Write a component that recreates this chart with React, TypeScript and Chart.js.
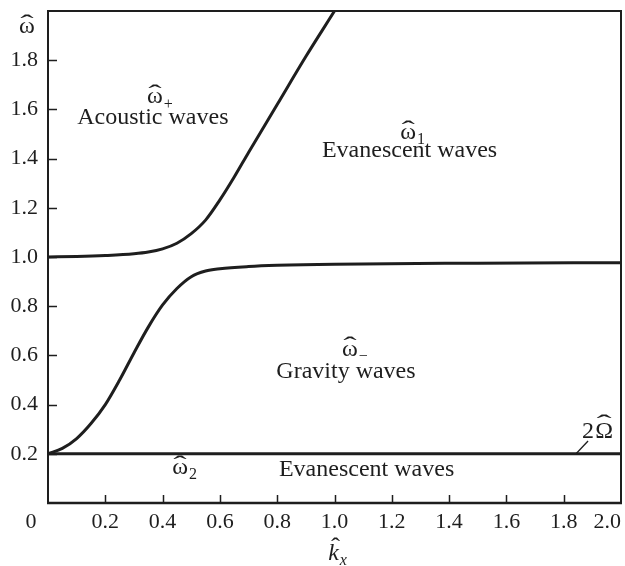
import React, { useEffect, useRef } from 'react';
import { Chart, registerables } from 'chart.js';

Chart.register(...registerables);

// ---- data ----
const kAcoustic = [0, 0.1, 0.2, 0.3, 0.35, 0.4, 0.45, 0.5, 0.55, 0.6, 0.65, 0.7, 0.8, 0.9, 1.0];
const omegaPlus = [1.0, 1.002, 1.006, 1.013, 1.02, 1.033, 1.056, 1.095, 1.15, 1.232, 1.325, 1.425, 1.62, 1.815, 2.0];

const kGravity = [0, 0.05, 0.1, 0.15, 0.2, 0.25, 0.3, 0.35, 0.4, 0.45, 0.5, 0.55, 0.6, 0.7, 0.8, 1.0, 1.5, 2.0];
const omegaMinus = [0.2, 0.222, 0.262, 0.323, 0.4, 0.5, 0.61, 0.715, 0.805, 0.872, 0.92, 0.943, 0.952, 0.961, 0.966, 0.971, 0.975, 0.977];

const kCutoff = [0, 2.0];
const omegaCutoff = [0.2, 0.2];

const kLeader = [1.843, 1.885];
const omegaLeader = [0.2, 0.252];

const xTickValues = [0.2, 0.4, 0.6, 0.8, 1.0, 1.2, 1.4, 1.6, 1.8];
const yTickValues = [0.2, 0.4, 0.6, 0.8, 1.0, 1.2, 1.4, 1.6, 1.8];
const xCornerLabels = ['0', '2.0'];

const regionSymbols = ['ω', 'ω', 'ω', 'ω'];
const regionSubscripts = ['+', '1', '−', '2'];
const symbolK = [0.373, 1.257, 1.054, 0.461];
const symbolOmega = [1.625, 1.479, 0.599, 0.118];
const regionNames = ['Acoustic waves', 'Evanescent waves', 'Gravity waves', 'Evanescent waves'];
const nameK = [0.366, 1.262, 1.04, 1.112];
const nameOmega = [1.568, 1.434, 0.534, 0.134];

const cutoffLabel = ['2', 'Ω'];
const cutoffLabelK = 1.92;
const cutoffLabelOmega = 0.265;

const SERIF = '"Liberation Serif", "Times New Roman", serif';
const INK = '#1e1e1e';
const TICK_SIZE = 22;
const TICK_PAD_X = 6;
const LABEL_SIZE = 24;
const HAT = 'ˆ';

const pts = (xs: number[], ys: number[]) => xs.map((x, i) => ({ x, y: ys[i] }));

// draws a wide circumflex (as text) centred over a glyph drawn at baseline y
function drawHat(ctx: CanvasRenderingContext2D, cx: number, baseline: number, lift: number, width: number, size: number) {
  ctx.save();
  ctx.font = `${size}px ${SERIF}`;
  ctx.textAlign = 'center';
  ctx.textBaseline = 'alphabetic';
  const w = ctx.measureText(HAT).width || 1;
  ctx.translate(cx, baseline - lift);
  ctx.scale(width / w, 1);
  ctx.fillText(HAT, 0, 0);
  ctx.restore();
}

function drawHatted(ctx: CanvasRenderingContext2D, x: number, baseline: number, base: string, sub: string, size: number,
  opts: { italic?: boolean; lift?: number; hatShift?: number } = {}) {
  const style = opts.italic ? 'italic ' : '';
  ctx.font = `${style}${size}px ${SERIF}`;
  ctx.textAlign = 'center';
  ctx.textBaseline = 'alphabetic';
  ctx.fillText(base, x, baseline);
  const w = ctx.measureText(base).width;
  drawHat(ctx, x + (opts.hatShift || 0), baseline, opts.lift ?? size * 0.09, w * 0.85, size);
  if (sub) {
    ctx.font = `${style}${Math.round(size * 0.68)}px ${SERIF}`;
    ctx.textAlign = 'left';
    ctx.textBaseline = 'alphabetic';
    ctx.fillText(sub, x + w / 2 + 1, baseline + size * 0.22);
  }
}

const decorPlugin = {
  id: 'decor',
  afterDatasetsDraw(chart: any) {
    const { ctx, chartArea: a, scales } = chart;
    const xs = scales.x;
    const ys = scales.y;
    ctx.save();
    ctx.strokeStyle = INK;
    ctx.lineCap = 'butt';
    // frame
    ctx.lineWidth = 2;
    ctx.beginPath();
    ctx.moveTo(a.left, a.bottom);
    ctx.lineTo(a.left, a.top);
    ctx.lineTo(a.right, a.top);
    ctx.lineTo(a.right, a.bottom);
    ctx.stroke();
    ctx.lineWidth = 2.5;
    ctx.beginPath();
    ctx.moveTo(a.left - 1, a.bottom);
    ctx.lineTo(a.right + 1, a.bottom);
    ctx.stroke();
    // inward tick marks
    ctx.lineWidth = 1.5;
    ctx.beginPath();
    xTickValues.forEach((v) => {
      const px = Math.round(xs.getPixelForValue(v)) + 0.5;
      ctx.moveTo(px, a.bottom);
      ctx.lineTo(px, a.bottom - 8);
    });
    yTickValues.forEach((v) => {
      const py = Math.round(ys.getPixelForValue(v)) + 0.5;
      ctx.moveTo(a.left, py);
      ctx.lineTo(a.left + 9, py);
    });
    ctx.stroke();

    ctx.fillStyle = INK;
    // corner tick labels
    ctx.font = `${TICK_SIZE}px ${SERIF}`;
    ctx.textBaseline = 'middle';
    const labelY = a.bottom + TICK_PAD_X + (TICK_SIZE * 1.2) / 2;
    ctx.textAlign = 'center';
    ctx.fillText(xCornerLabels[0], a.left - 17, labelY);
    ctx.textAlign = 'right';
    ctx.fillText(xCornerLabels[1], a.right, labelY);

    // region labels
    regionSymbols.forEach((s, i) => {
      drawHatted(ctx, xs.getPixelForValue(symbolK[i]), ys.getPixelForValue(symbolOmega[i]), s, regionSubscripts[i], LABEL_SIZE);
    });
    ctx.font = `${LABEL_SIZE}px ${SERIF}`;
    ctx.textAlign = 'center';
    ctx.textBaseline = 'middle';
    regionNames.forEach((n, i) => {
      ctx.fillText(n, xs.getPixelForValue(nameK[i]), ys.getPixelForValue(nameOmega[i]));
    });
    // 2Omega label
    const cx = xs.getPixelForValue(cutoffLabelK);
    const cy = ys.getPixelForValue(cutoffLabelOmega);
    ctx.font = `${LABEL_SIZE}px ${SERIF}`;
    ctx.textAlign = 'center';
    ctx.textBaseline = 'alphabetic';
    ctx.fillText(cutoffLabel[0], cx - 10, cy);
    drawHatted(ctx, cx + 6, cy, cutoffLabel[1], '', LABEL_SIZE, { lift: LABEL_SIZE * 0.3 });

    // axis titles
    drawHatted(ctx, 27, 33, 'ω', '', LABEL_SIZE);
    drawHatted(ctx, (a.left + a.right) / 2 - 1, 560, 'k', 'x', LABEL_SIZE, { italic: true, lift: LABEL_SIZE * 0.27, hatShift: 2 });
    ctx.restore();
  },
};

export default function App() {
  const ref = useRef<HTMLCanvasElement | null>(null);
  useEffect(() => {
    if (!ref.current) return;
    const tickFont = { family: SERIF, size: TICK_SIZE };
    const chart = new Chart(ref.current, {
      type: 'line',
      data: {
        datasets: [
          { data: pts(kAcoustic, omegaPlus), borderColor: INK, borderWidth: 3, pointRadius: 0, cubicInterpolationMode: 'monotone', fill: false },
          { data: pts(kGravity, omegaMinus), borderColor: INK, borderWidth: 3, pointRadius: 0, cubicInterpolationMode: 'monotone', fill: false },
          { data: pts(kCutoff, omegaCutoff), borderColor: INK, borderWidth: 3, pointRadius: 0, fill: false },
          { data: pts(kLeader, omegaLeader), borderColor: INK, borderWidth: 1.3, pointRadius: 0, fill: false },
        ],
      },
      options: {
        animation: false,
        responsive: true,
        maintainAspectRatio: false,
        layout: { padding: { top: 11, right: 4, left: 0, bottom: 0 } },
        plugins: { legend: { display: false }, tooltip: { enabled: false } },
        scales: {
          x: {
            type: 'linear',
            min: 0,
            max: 2.0,
            grid: { display: false, drawTicks: false },
            border: { display: false },
            afterBuildTicks: (s: any) => { s.ticks = xTickValues.map((v) => ({ value: v })); },
            ticks: { font: tickFont, color: INK, padding: TICK_PAD_X, maxRotation: 0, autoSkip: false, callback: (v: any) => Number(v).toFixed(1) },
            afterFit: (s: any) => { s.height = 63; s.paddingLeft = 0; s.paddingRight = 0; },
          },
          y: {
            type: 'linear',
            min: 0,
            max: 2.0,
            grid: { display: false, drawTicks: false },
            border: { display: false },
            afterBuildTicks: (s: any) => { s.ticks = yTickValues.map((v) => ({ value: v })); },
            ticks: { font: tickFont, color: INK, padding: 10, autoSkip: false, callback: (v: any) => Number(v).toFixed(1) },
            afterFit: (s: any) => { s.width = 48; s.paddingTop = 0; s.paddingBottom = 0; },
          },
        },
      },
      plugins: [decorPlugin],
    } as any);
    return () => chart.destroy();
  }, []);
  return (
    <div style={{ position: 'fixed', left: 0, top: 0, width: 625, height: 566, background: '#fff' }}>
      <canvas ref={ref} />
    </div>
  );
}
